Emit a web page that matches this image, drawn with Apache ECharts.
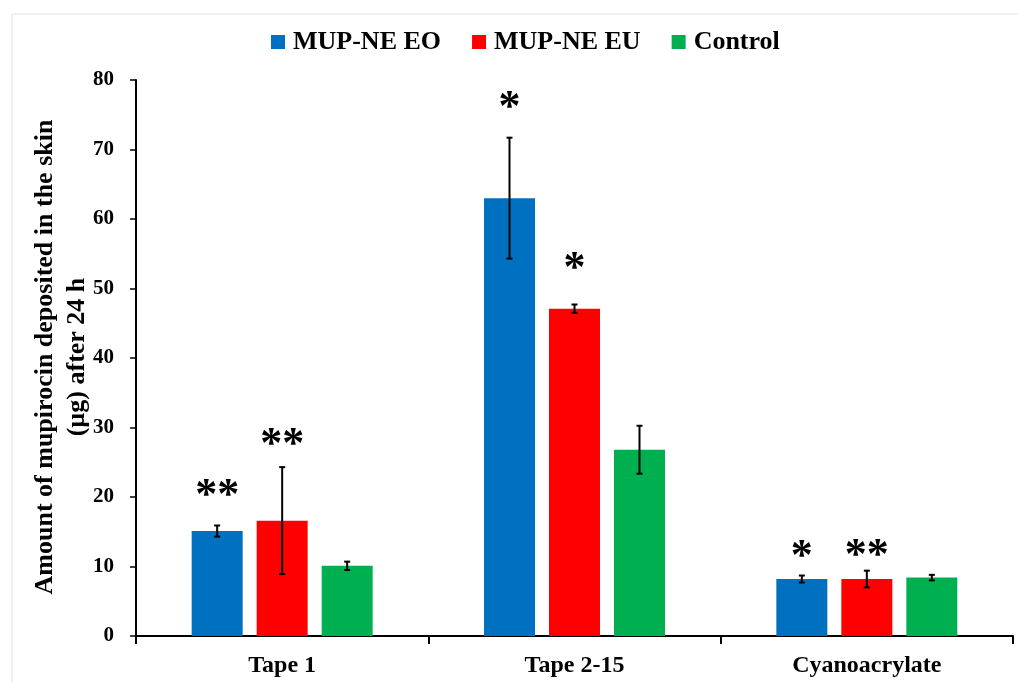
<!DOCTYPE html>
<html>
<head>
<meta charset="utf-8">
<script src="https://cdn.jsdelivr.net/npm/echarts@6/dist/echarts.min.js"></script>
<style>html,body{margin:0;padding:0;background:#fff;}#c{width:1018px;height:682px;}</style>
</head>
<body>
<div id="c"></div>
<script>
var categories = ['Tape 1', 'Tape 2-15', 'Cyanoacrylate'];
var seriesNames = ['MUP-NE EO', 'MUP-NE EU', 'Control'];
var colors = ['#0070C0', '#FF0000', '#00B050'];
var eoValues = [15.1, 63.0, 8.2];
var euValues = [16.6, 47.1, 8.2];
var ctrlValues = [10.1, 26.8, 8.4];
var eoErr = [0.8, 8.7, 0.5];
var euErr = [7.7, 0.6, 1.2];
var ctrlErr = [0.6, 3.45, 0.4];
// significance marks: [category index, series index, y value, text]
var stars = [
  [0, 0, 21.0, '**'],
  [0, 1, 28.3, '**'],
  [1, 0, 76.7, '*'],
  [1, 1, 53.6, '*'],
  [2, 0, 12.2, '*'],
  [2, 1, 12.3, '**']
];
var yTicks = [0, 10, 20, 30, 40, 50, 60, 70, 80];

var BAR_W = 51, BAR_GAP = 14;
var STAR_SIZE = 44;
var FONT = '"Liberation Serif", "Times New Roman", serif';
var values = [eoValues, euValues, ctrlValues];
var errs = [eoErr, euErr, ctrlErr];

var errData = [];
for (var s = 0; s < 3; s++) {
  for (var c = 0; c < categories.length; c++) {
    errData.push([c, s, values[s][c] - errs[s][c], values[s][c] + errs[s][c]]);
  }
}

function offsetOf(s) { return (s - 1) * (BAR_W + BAR_GAP); }

var chart = echarts.init(document.getElementById('c'), null, {renderer: 'canvas'});
var barSeries = seriesNames.map(function (n, i) {
  return {
    name: n, type: 'bar', data: values[i], barWidth: BAR_W, barGap: (BAR_GAP / BAR_W * 100) + '%',
    itemStyle: {color: colors[i]}, z: 2
  };
});

chart.setOption({
  animation: false,
  backgroundColor: '#fff',
  textStyle: {fontFamily: FONT},
  legend: {
    top: 24, left: 266,
    data: seriesNames,
    icon: 'rect', itemWidth: 14, itemHeight: 14, itemGap: 31,
    textStyle: {fontFamily: FONT, fontWeight: 'bold', fontSize: 26, color: '#000', padding: [0, 0, 0, 3]}
  },
  grid: {left: 136, right: 5, top: 80, bottom: 46, containLabel: false, outerBoundsMode: 'none'},
  xAxis: {
    type: 'category', data: categories,
    axisLine: {lineStyle: {color: '#000', width: 2}},
    axisTick: {show: true, length: 8, lineStyle: {color: '#000', width: 2}},
    axisLabel: {fontFamily: FONT, fontWeight: 'bold', fontSize: 24, color: '#000', margin: 18}
  },
  yAxis: {
    type: 'value', min: 0, max: 80, interval: 10,
    axisLine: {show: true, lineStyle: {color: '#000', width: 2}},
    axisTick: {show: true, length: 6, lineStyle: {color: '#000', width: 1.5}},
    splitLine: {show: false},
    axisLabel: {fontFamily: FONT, fontWeight: 'bold', fontSize: 21, color: '#000', margin: 22,
      formatter: function (v) { return yTicks.indexOf(v) >= 0 ? String(v) : ''; }}
  },
  graphic: [
    {type: 'rect', shape: {x: 12, y: 14, width: 1020, height: 700}, style: {fill: 'none', stroke: '#e2e2e2', lineWidth: 1}, silent: true, z: -1},
    {type: 'text', x: 45, y: 357, rotation: Math.PI / 2, style: {text: 'Amount of mupirocin deposited in the skin', font: 'bold 26px ' + FONT, fill: '#000', align: 'center', verticalAlign: 'middle'}},
    {type: 'text', x: 77, y: 357, rotation: Math.PI / 2, style: {text: '(µg) after 24 h', font: 'bold 26px ' + FONT, fill: '#000', align: 'center', verticalAlign: 'middle'}}
  ],
  series: barSeries.concat([
    {
      type: 'custom', name: 'err', data: errData, z: 5, silent: true,
      encode: {x: 0, y: [2, 3]},
      renderItem: function (params, api) {
        var c = api.value(0), s = api.value(1);
        var lo = api.coord([c, api.value(2)]);
        var hi = api.coord([c, api.value(3)]);
        var x = lo[0] + offsetOf(s);
        var hw = 3;
        var st = {stroke: '#000', lineWidth: 2};
        return {type: 'group', children: [
          {type: 'line', shape: {x1: x, y1: lo[1], x2: x, y2: hi[1]}, style: st},
          {type: 'line', shape: {x1: x - hw, y1: lo[1], x2: x + hw, y2: lo[1]}, style: st},
          {type: 'line', shape: {x1: x - hw, y1: hi[1], x2: x + hw, y2: hi[1]}, style: st}
        ]};
      }
    },
    {
      type: 'custom', name: 'stars', data: stars, z: 6, silent: true,
      encode: {x: 0, y: 2},
      renderItem: function (params, api) {
        var c = api.value(0), s = api.value(1);
        var p = api.coord([c, api.value(2)]);
        var txt = stars[params.dataIndex][3];
        return {type: 'text', x: p[0] + offsetOf(s), y: p[1] + STAR_SIZE * 0.14,
          style: {text: txt, font: 'bold ' + STAR_SIZE + 'px ' + FONT, fill: '#000', align: 'center', verticalAlign: 'middle'}};
      }
    }
  ])
});
</script>
</body>
</html>
